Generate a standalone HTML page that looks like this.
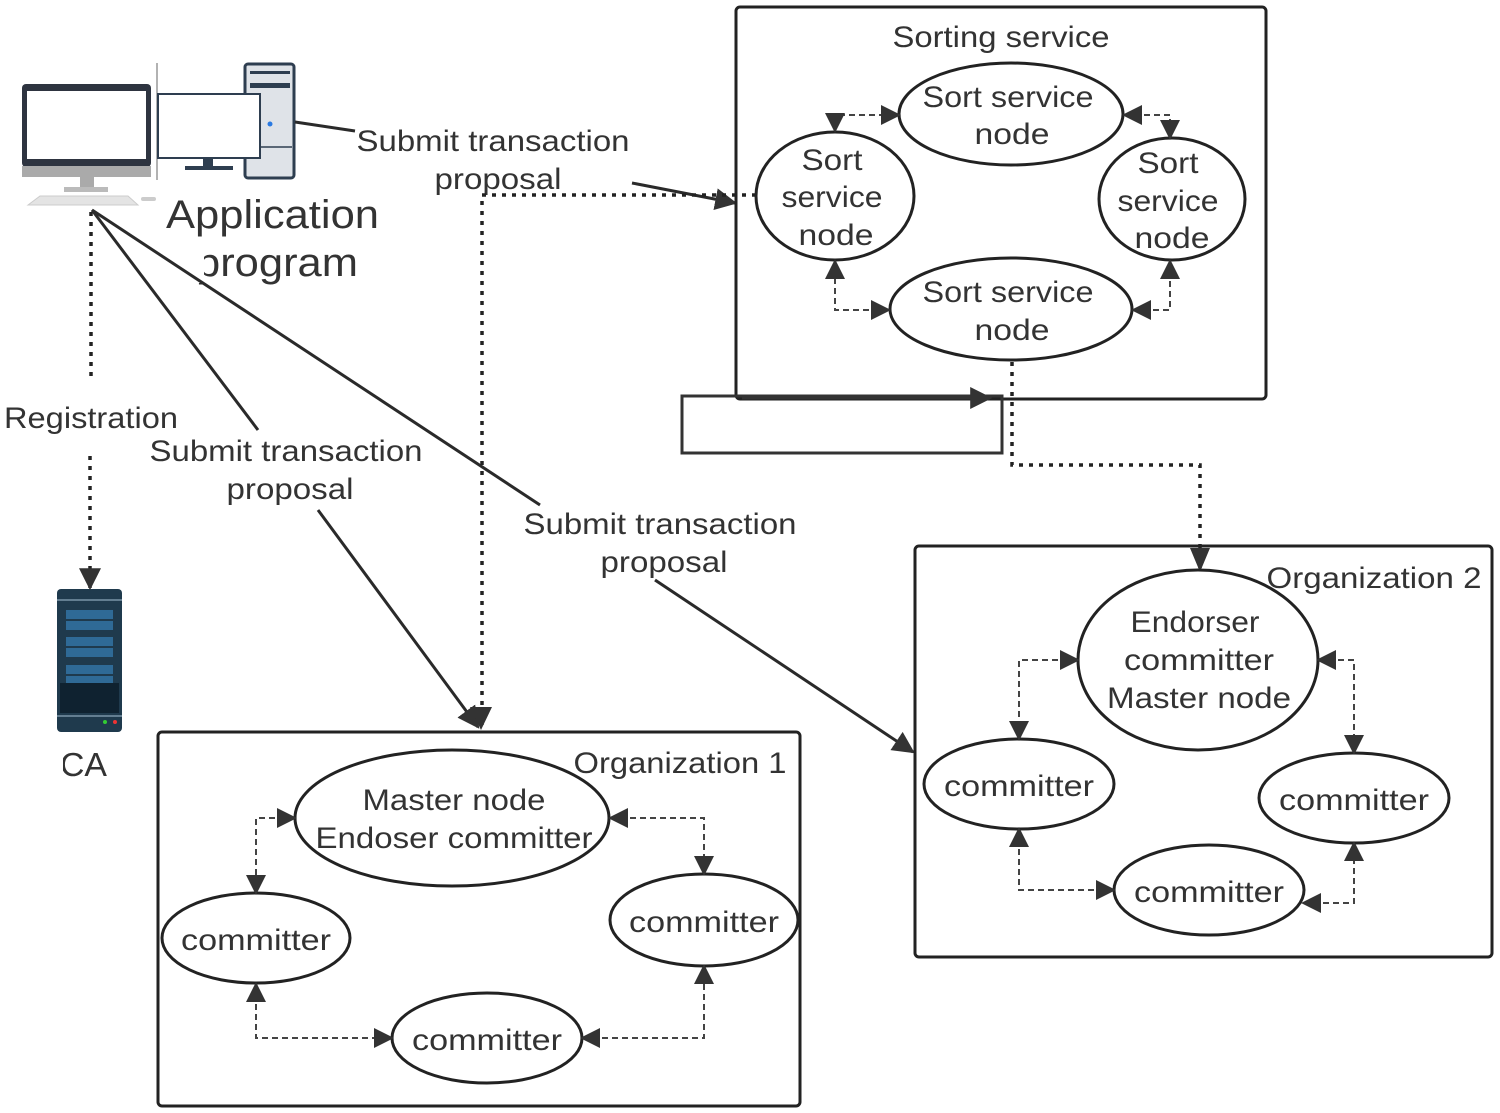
<!DOCTYPE html>
<html><head><meta charset="utf-8"><style>
html,body{margin:0;padding:0;background:#fff;}
svg{display:block;}
text{font-family:"Liberation Sans","DejaVu Sans",sans-serif;fill:#333;font-size:30px;}
</style></head><body>
<svg width="1500" height="1113" viewBox="0 0 1500 1113" xmlns="http://www.w3.org/2000/svg">
<defs>
<marker id="b" viewBox="0 0 10 10" refX="9" refY="5" markerWidth="22" markerHeight="22" markerUnits="userSpaceOnUse" orient="auto"><path d="M0,0 L10,5 L0,10 z" fill="#333"/></marker>
<marker id="s" viewBox="0 0 10 10" refX="9" refY="5" markerWidth="20" markerHeight="20" markerUnits="userSpaceOnUse" orient="auto-start-reverse"><path d="M0,0 L10,5 L0,10 z" fill="#333"/></marker>
</defs>

<!-- computer 1 -->
<rect x="22" y="84" width="129" height="83" rx="4" fill="#2e3440"/>
<rect x="27" y="91" width="119" height="68" fill="#fff"/>
<rect x="22" y="166" width="129" height="11" fill="#aaa"/>
<rect x="80" y="177" width="14" height="10" fill="#aaa"/>
<rect x="64" y="187" width="44" height="5" fill="#bbb"/>
<path d="M28,205 L40,196 L128,196 L138,205 Z" fill="#e4e4e4" stroke="#ccc"/>
<rect x="141" y="197" width="15" height="4" rx="2" fill="#ccc"/>
<line x1="157" y1="63" x2="157" y2="180" stroke="#999" stroke-width="1.5"/>
<!-- computer 2 -->
<rect x="245" y="64" width="49" height="114" rx="3" fill="#dfe3e8" stroke="#2e3e50" stroke-width="3"/>
<rect x="250" y="71" width="40" height="3" fill="#2e3e50"/>
<rect x="250" y="83" width="40" height="5" fill="#2e3e50"/>
<line x1="247" y1="147" x2="292" y2="147" stroke="#2e3e50" stroke-width="1.5"/>
<circle cx="270" cy="124" r="2.5" fill="#2a7ae2"/>
<rect x="158" y="94" width="102" height="64" fill="#fff" stroke="#2e3e50" stroke-width="2"/>
<rect x="203" y="158" width="10" height="8" fill="#2e3e50"/>
<rect x="185" y="166" width="48" height="4" fill="#2e3e50"/>

<text x="166" y="228" style="font-size:40px" textLength="213" lengthAdjust="spacingAndGlyphs">Application</text>
<text x="196" y="276" style="font-size:40px" textLength="162" lengthAdjust="spacingAndGlyphs">program</text>
<rect x="193" y="245" width="11" height="38" fill="#fff"/>

<!-- CA server -->
<rect x="57" y="589" width="65" height="143" rx="4" fill="#1f3a4d"/>
<line x1="57" y1="600" x2="122" y2="600" stroke="#7a95a8" stroke-width="1.5"/>
<rect x="66" y="610" width="47" height="9" fill="#2f6a96"/>
<rect x="66" y="621" width="47" height="9" fill="#2f6a96"/>
<rect x="66" y="637" width="47" height="9" fill="#2f6a96"/>
<rect x="66" y="648" width="47" height="9" fill="#2f6a96"/>
<rect x="66" y="665" width="47" height="9" fill="#2f6a96"/>
<rect x="66" y="676" width="47" height="9" fill="#2f6a96"/>
<rect x="60" y="683" width="59" height="30" fill="#0f2230"/>
<line x1="57" y1="716" x2="122" y2="716" stroke="#7a95a8" stroke-width="1.5"/>
<circle cx="105" cy="722" r="2" fill="#3c3"/><circle cx="115" cy="722" r="2" fill="#e33"/>
<text x="60" y="776" style="font-size:33px" textLength="47" lengthAdjust="spacingAndGlyphs">CA</text>
<rect x="55" y="745" width="8" height="40" fill="#fff"/>

<!-- registration -->
<line x1="91" y1="212" x2="91" y2="380" stroke="#222" stroke-width="3.5" stroke-dasharray="4,6"/>
<text x="4" y="428" textLength="174" lengthAdjust="spacingAndGlyphs">Registration</text>
<line x1="90" y1="456" x2="90" y2="588" stroke="#222" stroke-width="3.5" stroke-dasharray="4,6" marker-end="url(#b)"/>

<!-- solid lines from computer -->
<line x1="92" y1="210" x2="258" y2="430" stroke="#2a2a2a" stroke-width="3"/>
<text x="286" y="461" text-anchor="middle" textLength="273" lengthAdjust="spacingAndGlyphs">Submit transaction</text>
<text x="290" y="499" text-anchor="middle" textLength="127" lengthAdjust="spacingAndGlyphs">proposal</text>
<line x1="318" y1="510" x2="478" y2="727" stroke="#2a2a2a" stroke-width="3" marker-end="url(#b)"/>

<line x1="92" y1="210" x2="540" y2="505" stroke="#2a2a2a" stroke-width="3"/>
<text x="660" y="534" text-anchor="middle" textLength="273" lengthAdjust="spacingAndGlyphs">Submit transaction</text>
<text x="664" y="572" text-anchor="middle" textLength="127" lengthAdjust="spacingAndGlyphs">proposal</text>
<line x1="655" y1="580" x2="913" y2="752" stroke="#2a2a2a" stroke-width="3" marker-end="url(#b)"/>

<line x1="295" y1="122" x2="355" y2="131" stroke="#2a2a2a" stroke-width="3"/>
<text x="493" y="151" text-anchor="middle" textLength="273" lengthAdjust="spacingAndGlyphs">Submit transaction</text>
<text x="498" y="189" text-anchor="middle" textLength="127" lengthAdjust="spacingAndGlyphs">proposal</text>
<line x1="632" y1="183" x2="735" y2="203" stroke="#2a2a2a" stroke-width="3" marker-end="url(#b)"/>

<!-- dotted from sort node to org1 -->
<polyline points="756,195 482,195 482,727" fill="none" stroke="#222" stroke-width="3.5" stroke-dasharray="4,6"/>
<path d="M470,707 L492,707 L481,730 Z" fill="#333"/>

<!-- sorting service -->
<rect x="736" y="7" width="530" height="392" rx="4" fill="none" stroke="#222" stroke-width="3"/>
<text x="1001" y="47" text-anchor="middle" textLength="217" lengthAdjust="spacingAndGlyphs">Sorting service</text>
<rect x="682" y="396" width="320" height="57" fill="none" stroke="#333" stroke-width="3"/>
<line x1="742" y1="398" x2="990" y2="398" stroke="#333" stroke-width="3" marker-end="url(#b)"/>
<polyline points="1012,362 1012,465 1200,465 1200,570" fill="none" stroke="#222" stroke-width="3.5" stroke-dasharray="4,6"/>
<path d="M1190,548 L1210,548 L1200,572 Z" fill="#333"/>

<g fill="#fff" stroke="#222" stroke-width="3">
<ellipse cx="1011" cy="114" rx="112" ry="51"/>
<ellipse cx="835" cy="196" rx="79" ry="64"/>
<ellipse cx="1172" cy="199" rx="73" ry="61"/>
<ellipse cx="1011" cy="309" rx="121" ry="51"/>
</g>
<text x="1008" y="107" text-anchor="middle" textLength="171" lengthAdjust="spacingAndGlyphs">Sort service</text>
<text x="1012" y="144" text-anchor="middle" textLength="75" lengthAdjust="spacingAndGlyphs">node</text>
<text x="832" y="170" text-anchor="middle" textLength="61" lengthAdjust="spacingAndGlyphs">Sort</text>
<text x="832" y="207" text-anchor="middle" textLength="101" lengthAdjust="spacingAndGlyphs">service</text>
<text x="836" y="245" text-anchor="middle" textLength="75" lengthAdjust="spacingAndGlyphs">node</text>
<text x="1168" y="173" text-anchor="middle" textLength="61" lengthAdjust="spacingAndGlyphs">Sort</text>
<text x="1168" y="211" text-anchor="middle" textLength="101" lengthAdjust="spacingAndGlyphs">service</text>
<text x="1172" y="248" text-anchor="middle" textLength="75" lengthAdjust="spacingAndGlyphs">node</text>
<text x="1008" y="302" text-anchor="middle" textLength="171" lengthAdjust="spacingAndGlyphs">Sort service</text>
<text x="1012" y="340" text-anchor="middle" textLength="75" lengthAdjust="spacingAndGlyphs">node</text>

<g fill="none" stroke="#444" stroke-width="2" stroke-dasharray="6,4">
<polyline points="835,131 835,115 899,115" marker-start="url(#s)" marker-end="url(#s)"/>
<polyline points="1124,115 1170,115 1170,138" marker-start="url(#s)" marker-end="url(#s)"/>
<polyline points="1170,261 1170,310 1133,310" marker-start="url(#s)" marker-end="url(#s)"/>
<polyline points="889,310 835,310 835,261" marker-start="url(#s)" marker-end="url(#s)"/>
</g>

<!-- org 1 -->
<rect x="158" y="732" width="642" height="374" rx="4" fill="none" stroke="#222" stroke-width="3"/>
<g fill="#fff" stroke="#222" stroke-width="3">
<ellipse cx="452" cy="818" rx="157" ry="68"/>
<ellipse cx="256" cy="938" rx="94" ry="45"/>
<ellipse cx="704" cy="920" rx="94" ry="46"/>
<ellipse cx="487" cy="1038" rx="95" ry="45"/>
</g>
<text x="680" y="773" text-anchor="middle" textLength="213" lengthAdjust="spacingAndGlyphs">Organization 1</text>
<text x="454" y="810" text-anchor="middle" textLength="183" lengthAdjust="spacingAndGlyphs">Master node</text>
<text x="454" y="848" text-anchor="middle" textLength="277" lengthAdjust="spacingAndGlyphs">Endoser committer</text>
<text x="256" y="950" text-anchor="middle" textLength="150" lengthAdjust="spacingAndGlyphs">committer</text>
<text x="704" y="932" text-anchor="middle" textLength="150" lengthAdjust="spacingAndGlyphs">committer</text>
<text x="487" y="1050" text-anchor="middle" textLength="150" lengthAdjust="spacingAndGlyphs">committer</text>
<g fill="none" stroke="#444" stroke-width="2" stroke-dasharray="6,4">
<polyline points="295,818 256,818 256,893" marker-start="url(#s)" marker-end="url(#s)"/>
<polyline points="610,818 704,818 704,874" marker-start="url(#s)" marker-end="url(#s)"/>
<polyline points="256,984 256,1038 392,1038" marker-start="url(#s)" marker-end="url(#s)"/>
<polyline points="582,1038 704,1038 704,966" marker-start="url(#s)" marker-end="url(#s)"/>
</g>

<!-- org 2 -->
<rect x="915" y="546" width="577" height="411" rx="4" fill="none" stroke="#222" stroke-width="3"/>
<g fill="#fff" stroke="#222" stroke-width="3">
<ellipse cx="1198" cy="660" rx="120" ry="90"/>
<ellipse cx="1019" cy="784" rx="95" ry="45"/>
<ellipse cx="1354" cy="798" rx="95" ry="45"/>
<ellipse cx="1209" cy="890" rx="95" ry="45"/>
</g>
<text x="1374" y="588" text-anchor="middle" textLength="215" lengthAdjust="spacingAndGlyphs">Organization 2</text>
<text x="1195" y="632" text-anchor="middle" textLength="129" lengthAdjust="spacingAndGlyphs">Endorser</text>
<text x="1199" y="670" text-anchor="middle" textLength="150" lengthAdjust="spacingAndGlyphs">committer</text>
<text x="1199" y="708" text-anchor="middle" textLength="184" lengthAdjust="spacingAndGlyphs">Master node</text>
<text x="1019" y="796" text-anchor="middle" textLength="150" lengthAdjust="spacingAndGlyphs">committer</text>
<text x="1354" y="810" text-anchor="middle" textLength="150" lengthAdjust="spacingAndGlyphs">committer</text>
<text x="1209" y="902" text-anchor="middle" textLength="150" lengthAdjust="spacingAndGlyphs">committer</text>
<g fill="none" stroke="#444" stroke-width="2" stroke-dasharray="6,4">
<polyline points="1078,660 1019,660 1019,739" marker-start="url(#s)" marker-end="url(#s)"/>
<polyline points="1318,660 1354,660 1354,753" marker-start="url(#s)" marker-end="url(#s)"/>
<polyline points="1019,829 1019,890 1114,890" marker-start="url(#s)" marker-end="url(#s)"/>
<polyline points="1303,903 1354,903 1354,843" marker-start="url(#s)" marker-end="url(#s)"/>
</g>
</svg>
</body></html>
